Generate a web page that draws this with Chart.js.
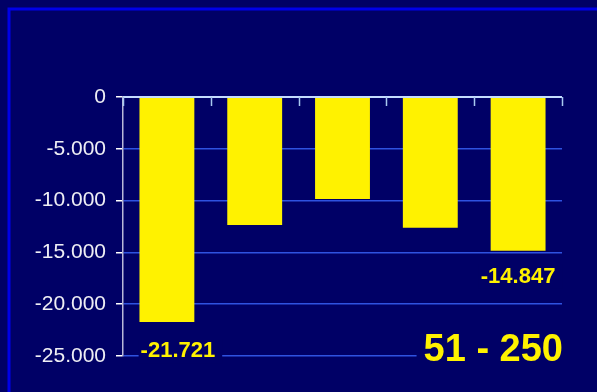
<!DOCTYPE html>
<html>
<head>
<meta charset="utf-8">
<script src="https://cdn.jsdelivr.net/npm/chart.js@4"></script>
<style>
  html, body { margin: 0; padding: 0; background: #000066; }
  canvas { display: block; }
</style>
</head>
<body>
<canvas id="chart" width="597" height="392"></canvas>
<script>
const categories = ['1', '2', '3', '4', '5'];
const values = [-21721, -12355, -9846, -12615, -14847];
const yTicks = [0, -5000, -10000, -15000, -20000, -25000];
const shownLabels = [0, 4];
const title = '51 - 250';

const fmt = (v) => v.toLocaleString('de-DE');

const bg = '#000066';
const yellow = '#fff200';

Chart.defaults.font.family = '"Liberation Sans", Arial, sans-serif';

const frame = {
  id: 'frame',
  beforeDraw(chart) {
    const { ctx, width, height } = chart;
    ctx.save();
    ctx.fillStyle = bg;
    ctx.fillRect(0, 0, width, height);
    ctx.strokeStyle = '#0000e8';
    ctx.lineWidth = 3;
    ctx.strokeRect(9, 9, width + 20, height + 20);
    ctx.restore();
  },
  afterDraw(chart) {
    const { ctx, chartArea } = chart;
    const x = chart.scales.x;
    const y = chart.scales.y;
    ctx.save();
    // top axis line and category ticks
    const top = y.getPixelForValue(0);
    ctx.strokeStyle = '#c4dcff';
    ctx.lineWidth = 2;
    ctx.beginPath();
    ctx.moveTo(chartArea.left, top);
    ctx.lineTo(chartArea.right, top);
    ctx.stroke();
    ctx.lineWidth = 1.5;
    ctx.strokeStyle = '#a8c8f0';
    for (let i = 0; i <= categories.length; i++) {
      const px = Math.round(x.getPixelForValue(i - 0.5)) + 0.5;
      ctx.beginPath();
      ctx.moveTo(px, top);
      ctx.lineTo(px, top + 9);
      ctx.stroke();
    }

    // value labels below chosen bars
    const meta = chart.getDatasetMeta(0);
    ctx.font = 'bold 22px "Liberation Sans", Arial, sans-serif';
    ctx.textAlign = 'center';
    ctx.textBaseline = 'middle';
    shownLabels.forEach((i, n) => {
      const bar = meta.data[i];
      const text = fmt(values[i]);
      const cx = bar.x + (n === 0 ? 11 : 0);
      const cy = bar.y + (n === 0 ? 29 : 26);
      const w = ctx.measureText(text).width;
      ctx.fillStyle = bg;
      ctx.fillRect(cx - w / 2 - 2, cy - 12, w + 9, 24);
      ctx.fillStyle = yellow;
      ctx.fillText(text, cx, cy);
    });

    // title in bottom right
    ctx.font = 'bold 38px "Liberation Sans", Arial, sans-serif';
    ctx.textAlign = 'right';
    const tw = ctx.measureText(title).width;
    const tx = chartArea.right + 1;
    const ty = chartArea.bottom - 5;
    ctx.fillStyle = bg;
    ctx.fillRect(tx - tw - 7, ty - 20, tw + 7, 40);
    ctx.fillStyle = yellow;
    ctx.fillText(title, tx, ty);
    ctx.restore();
  }
};

new Chart(document.getElementById('chart'), {
  type: 'bar',
  data: {
    labels: categories,
    datasets: [{
      data: values,
      backgroundColor: yellow,
      borderWidth: 0,
      barPercentage: 0.625,
      categoryPercentage: 1
    }]
  },
  options: {
    responsive: false,
    animation: false,
    devicePixelRatio: 1,
    layout: { padding: { top: 97, right: 35, bottom: 36, left: 0 } },
    plugins: {
      legend: { display: false },
      tooltip: { enabled: false }
    },
    scales: {
      x: { display: false },
      y: {
        min: -25000,
        max: 0,
        afterFit(scale) { scale.width = 123; },
        afterBuildTicks(scale) { scale.ticks = yTicks.map((v) => ({ value: v })); },
        border: { color: '#b8b8d8', width: 1.5 },
        grid: {
          color: '#2f52e0',
          lineWidth: 1.5,
          tickColor: '#ffffff',
          tickLength: 7
        },
        ticks: {
          color: '#eeeef4',
          padding: 10,
          font: { size: 21 },
          callback: (v) => fmt(v)
        }
      }
    }
  },
  plugins: [frame]
});
</script>
</body>
</html>
